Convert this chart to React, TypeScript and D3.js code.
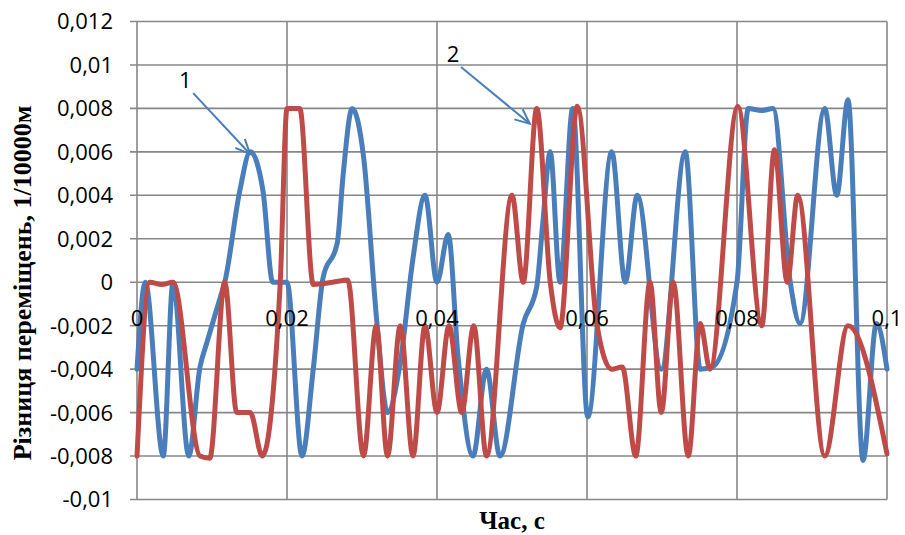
import React from "react";
import * as d3 from "d3";

// Series 1 (blue): time, s / displacement difference
const s1Time = [
  0, 0.0011, 0.0035, 0.0048, 0.0069, 0.0084, 0.0093, 0.0111, 0.0117, 0.0137, 0.0151, 0.0168,
  0.0181, 0.02, 0.022, 0.0235, 0.0248, 0.0267, 0.0275, 0.0287, 0.0302, 0.032, 0.0334, 0.0351,
  0.0368, 0.0384, 0.04, 0.0415, 0.0428, 0.0448, 0.0466, 0.0484, 0.0515, 0.0533, 0.0541, 0.0551,
  0.0564, 0.0581, 0.0601, 0.0633, 0.0651, 0.0667, 0.0699, 0.0731, 0.0751, 0.0767, 0.08, 0.0815,
  0.0833, 0.0848, 0.0871, 0.0884, 0.0917, 0.0933, 0.0948, 0.0968, 0.0986, 0.1,
];
const s1Value = [
  -0.004, 0, -0.008, 0, -0.008, -0.0039, -0.0028, -0.0007, 0, 0.0042, 0.006, 0.0042,
  0, 0, -0.008, -0.004, 0.0002, 0.0018, 0.005, 0.008, 0.0058, -0.0019, -0.006, -0.0037,
  0.0011, 0.004, 0, 0.0022, -0.0034, -0.008, -0.004, -0.008, -0.0019, -0.0002, 0.0027, 0.006,
  0, 0.008, -0.0062, 0.006, 0, 0.004, -0.004, 0.006, -0.004, -0.0039, 0, 0.008,
  0.0079, 0.008, 0, -0.0019, 0.008, 0.004, 0.0084, -0.0082, -0.0019, -0.004,
];

// Series 2 (red)
const s2Time = [
  0, 0.0017, 0.0033, 0.0048, 0.0084, 0.0097, 0.0117, 0.0133, 0.0151, 0.0167, 0.0191, 0.02,
  0.0217, 0.0235, 0.0261, 0.0281, 0.0302, 0.0319, 0.0334, 0.0351, 0.0368, 0.0384, 0.04, 0.0416,
  0.0433, 0.0449, 0.0466, 0.05, 0.0515, 0.0533, 0.0551, 0.0564, 0.0587, 0.0613, 0.0633, 0.0647,
  0.0665, 0.0684, 0.0699, 0.0715, 0.0735, 0.0751, 0.0764, 0.0801, 0.0833, 0.085, 0.0867, 0.0881,
  0.0917, 0.0948, 0.1,
];
const s2Value = [
  -0.008, 0, -0.0001, 0, -0.008, -0.0081, 0, -0.006, -0.006, -0.008, 0, 0.008,
  0.008, -0.0001, 0, 0.0001, -0.008, -0.002, -0.008, -0.002, -0.008, -0.002, -0.006, -0.002,
  -0.006, -0.002, -0.008, 0.004, 0, 0.008, 0, -0.0021, 0.0081, -0.0019, -0.004, -0.0039,
  -0.008, 0, -0.006, 0, -0.008, -0.0019, -0.004, 0.0081, -0.002, 0.0061, 0, 0.004,
  -0.008, -0.002, -0.0079,
];

const xTicks = [0, 0.02, 0.04, 0.06, 0.08, 0.1];
const yTicks = [-0.01, -0.008, -0.006, -0.004, -0.002, 0, 0.002, 0.004, 0.006, 0.008, 0.01, 0.012];

// Callout labels: [label, text x-value, text y-value, arrow target time, arrow target value]
const callouts: [string, number, number, number, number][] = [
  ["1", 0.00643, 0.0093, 0.01507, 0.0059],
  ["2", 0.04213, 0.0105, 0.05237, 0.0073],
];

const W = 905;
const H = 535;
const left = 137;
const right = 887;
const top = 21.5;
const bottom = 499.5;

const BLUE = "#4A7EBB";
const RED = "#BE4B48";
const GRID = "#878787";

const fmt = (v: number) => (v === 0 ? "0" : String(+v.toFixed(3)).replace(".", ","));

export default function App() {
  const x = d3.scaleLinear().domain([0, 0.1]).range([left, right]);
  const y = d3.scaleLinear().domain([-0.01, 0.012]).range([bottom, top]);

  const line = d3
    .line<[number, number]>()
    .x((d) => x(d[0]))
    .y((d) => y(d[1]))
    .curve(d3.curveMonotoneX);

  const s1 = s1Time.map((t, i) => [t, s1Value[i]] as [number, number]);
  const s2 = s2Time.map((t, i) => [t, s2Value[i]] as [number, number]);

  const tickFont = "'Open Sans', 'Liberation Sans', sans-serif";
  const titleFont = "'Liberation Serif', 'DejaVu Serif', serif";

  return (
    <svg
      width={W}
      height={H}
      viewBox={`0 0 ${W} ${H}`}
      style={{ position: "absolute", left: 0, top: 0, background: "#fff" }}
    >
      <rect x={0} y={0} width={W} height={H} fill="#fff" />
      {/* horizontal grid with left tick marks */}
      {yTicks.map((v) => (
        <line key={"h" + v} x1={left - 7} x2={right} y1={y(v)} y2={y(v)} stroke={GRID} strokeWidth={1.6} />
      ))}
      {/* vertical grid */}
      {xTicks.map((v) => (
        <line key={"v" + v} x1={x(v)} x2={x(v)} y1={top} y2={bottom} stroke={GRID} strokeWidth={1.6} />
      ))}
      {/* y tick labels */}
      {yTicks.map((v) => (
        <text
          key={"yl" + v}
          x={113}
          y={y(v)}
          dy="0.36em"
          textAnchor="end"
          fontFamily={tickFont}
          fontSize={22}
          fill="#000"
        >
          {fmt(v)}
        </text>
      ))}
      {/* series */}
      <path d={line(s1) ?? ""} fill="none" stroke={BLUE} strokeWidth={5} strokeLinejoin="round" strokeLinecap="round" />
      <path d={line(s2) ?? ""} fill="none" stroke={RED} strokeWidth={5} strokeLinejoin="round" strokeLinecap="round" />
      {/* x tick labels sit just below the zero line */}
      {xTicks.map((v) => (
        <text
          key={"xl" + v}
          x={x(v)}
          y={y(0) + 44}
          textAnchor="middle"
          fontFamily={tickFont}
          fontSize={22}
          fill="#000"
        >
          {fmt(v)}
        </text>
      ))}
      {/* callouts */}
      {callouts.map(([label, tx, ty, ax, ay]) => {
        const x0 = x(tx) + 8;
        const y0 = y(ty) + 13;
        const x1 = x(ax);
        const y1 = y(ay);
        const ang = Math.atan2(y1 - y0, x1 - x0);
        const hl = 16;
        const spread = 0.42;
        const h1 = [x1 - hl * Math.cos(ang - spread), y1 - hl * Math.sin(ang - spread)];
        const h2 = [x1 - hl * Math.cos(ang + spread), y1 - hl * Math.sin(ang + spread)];
        return (
          <g key={label}>
            <text x={x(tx)} y={y(ty)} dy="0.36em" textAnchor="middle" fontFamily={tickFont} fontSize={22} fill="#000">
              {label}
            </text>
            <line x1={x0} y1={y0} x2={x1} y2={y1} stroke={BLUE} strokeWidth={2} />
            <polyline
              points={`${h1[0]},${h1[1]} ${x1},${y1} ${h2[0]},${h2[1]}`}
              fill="none"
              stroke={BLUE}
              strokeWidth={2}
            />
          </g>
        );
      })}
      {/* axis titles */}
      <text
        transform={`translate(31, 283) rotate(-90)`}
        textAnchor="middle"
        fontFamily={titleFont}
        fontWeight="bold"
        fontSize={26}
        fill="#000"
      >
        Різниця переміщень, 1/10000м
      </text>
      <text
        x={512}
        y={529}
        textAnchor="middle"
        fontFamily={titleFont}
        fontWeight="bold"
        fontSize={25}
        fill="#000"
      >
        Час, с
      </text>
    </svg>
  );
}
